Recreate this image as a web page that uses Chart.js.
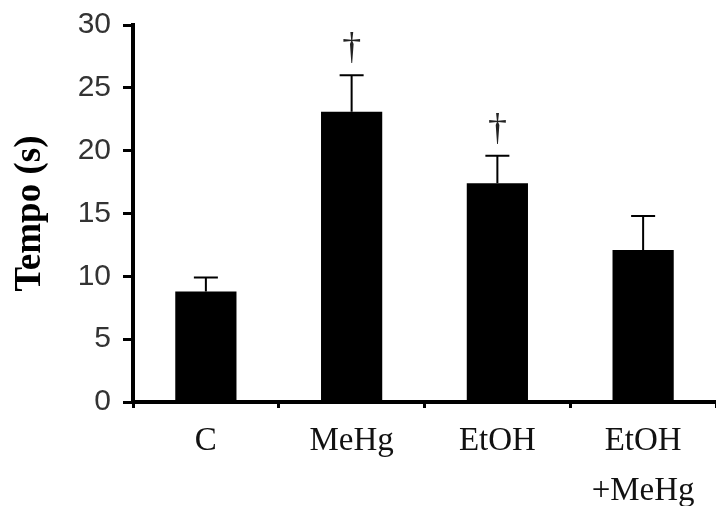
<!DOCTYPE html>
<html>
<head>
<meta charset="utf-8">
<script src="https://cdn.jsdelivr.net/npm/chart.js@4"></script>
<style>
  html, body { margin: 0; padding: 0; background: #fff; }
  #wrap { width: 716px; height: 506px; }
</style>
</head>
<body>
<div id="wrap"><canvas id="grafico" width="716" height="506"></canvas></div>
<script>
const grupos = [['C'], ['MeHg'], ['EtOH'], ['EtOH', '+MeHg']];
const medias = [8.8, 23.1, 17.4, 12.1];
const erros = [1.1, 2.9, 2.2, 2.7];
const marcas = ['', '†', '†', ''];
const ticksY = [0, 5, 10, 15, 20, 25, 30];

const ctx = document.getElementById('grafico');

// barras de erro (só para cima) e os símbolos de significância
const errosPlugin = {
  id: 'erros',
  afterDatasetsDraw(chart) {
    const c = chart.ctx;
    const x = chart.scales.x, y = chart.scales.y;
    c.save();
    c.strokeStyle = '#000';
    c.lineWidth = 2;
    medias.forEach((m, i) => {
      const px = x.getPixelForValue(i);
      const y0 = y.getPixelForValue(m);
      const y1 = y.getPixelForValue(m + erros[i]);
      c.beginPath();
      c.moveTo(px, y0);
      c.lineTo(px, y1);
      c.moveTo(px - 12, y1);
      c.lineTo(px + 12, y1);
      c.stroke();
      if (marcas[i]) {
        c.fillStyle = '#222';
        c.font = '38px "Liberation Serif"';
        c.textAlign = 'center';
        c.textBaseline = 'alphabetic';
        c.fillText(marcas[i], px, y1 - 16);
      }
    });
    c.restore();
  }
};

new Chart(ctx, {
  type: 'bar',
  data: {
    labels: grupos,
    datasets: [{
      data: medias,
      backgroundColor: '#000',
      borderWidth: 0,
      categoryPercentage: 1,
      barPercentage: 0.42
    }]
  },
  options: {
    responsive: false,
    animation: false,
    layout: { padding: { top: 25, right: 0, left: 0, bottom: 0 } },
    plugins: { legend: { display: false }, tooltip: { enabled: false } },
    scales: {
      x: {
        grid: { offset: true, drawOnChartArea: false, drawTicks: true, tickLength: 6, color: '#000', lineWidth: 3 },
        border: { display: true, color: '#000', width: 4 },
        ticks: {
          color: '#111',
          font: { family: '"Liberation Serif"', size: 33, lineHeight: 1.5 },
          padding: 9,
          maxRotation: 0,
          autoSkip: false
        },
        afterFit(s) { s.height = 104; }
      },
      y: {
        min: 0,
        max: 30,
        afterBuildTicks(s) { s.ticks = ticksY.map(v => ({ value: v })); },
        grid: { drawOnChartArea: false, drawTicks: true, tickLength: 10, color: '#000', lineWidth: 3 },
        border: { display: true, color: '#000', width: 4 },
        ticks: {
          color: '#333',
          font: { family: '"Liberation Sans"', size: 30 },
          padding: 12
        },
        title: {
          display: true,
          text: 'Tempo (s)',
          color: '#000',
          font: { family: '"Liberation Serif"', size: 37, weight: 'bold' },
          padding: { top: 8, bottom: 6 }
        },
        afterFit(s) { s.width = 133; s.paddingTop = 0; s.paddingBottom = 0; }
      }
    }
  },
  plugins: [errosPlugin]
});
</script>
</body>
</html>
